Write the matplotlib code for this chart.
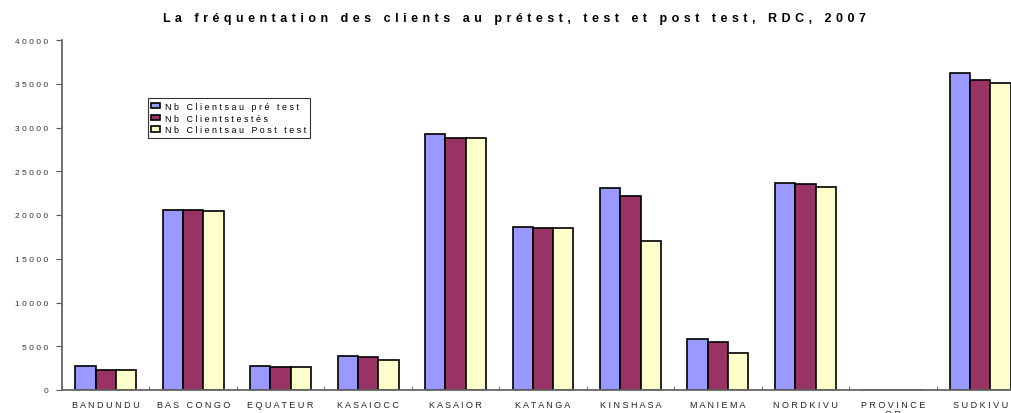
import matplotlib.pyplot as plt
import numpy as np

plt.rcParams['font.family'] = ['Liberation Sans', 'DejaVu Sans']

# provinces and attendance counts per stage
provinces = ['BANDUNDU', 'BAS CONGO', 'EQUATEUR', 'KASAIOCC', 'KASAIOR', 'KATANGA',
             'KINSHASA', 'MANIEMA', 'NORDKIVU', 'PROVINCE\nOR', 'SUDKIVU']
pretest = [2750, 20550, 2750, 3900, 29300, 18600, 23100, 5830, 23700, 0, 36200]
testes = [2300, 20550, 2600, 3750, 28750, 18500, 22200, 5450, 23550, 0, 35430]
posttest = [2300, 20450, 2600, 3400, 28750, 18500, 17000, 4230, 23230, 0, 35090]

series_names = ['Nb Clientsau pré test', 'Nb Clientstestés', 'Nb Clientsau Post test']
colors = ['#9999FF', '#993366', '#FFFFCC']
yticks = [0, 5000, 10000, 15000, 20000, 25000, 30000, 35000, 40000]


def spaced(s, gap=' '):
    # wide letter spacing, one line at a time
    return '\n'.join(gap.join(line) for line in s.split('\n'))


fig = plt.figure(figsize=(10.11, 4.14), dpi=100)
ax = fig.add_axes([62 / 1011, 1 - 391 / 414, 962 / 1011, 350 / 414])

x = np.arange(len(provinces))
w = 0.232
for i, (vals, col, name) in enumerate(zip([pretest, testes, posttest], colors, series_names)):
    ax.bar(x + (i - 1) * w, vals, w, color=col, edgecolor='black', linewidth=1.2,
           label=spaced(name))

ax.set_xlim(-0.5, len(provinces) - 0.5)
ax.set_ylim(0, 40000)
ax.set_yticks(yticks)
ax.set_yticklabels([spaced(str(v)) for v in yticks], fontsize=6, color='#333333')
ax.set_xticks(x)
ax.set_xticklabels([spaced(p) for p in provinces], fontsize=6.5, color='#222222',
                   linespacing=1.0)
ax.set_xticks(np.arange(len(provinces) + 1) - 0.5, minor=True)
ax.tick_params(axis='x', which='major', length=0, pad=7)
ax.tick_params(axis='x', which='minor', length=3, color='#555555', direction='in')
ax.tick_params(axis='y', length=4, color='#555555', pad=6)

for side in ['top', 'right']:
    ax.spines[side].set_visible(False)
ax.spines['left'].set_color('#666666')
ax.spines['bottom'].set_color('#666666')
ax.spines['left'].set_linewidth(1.3)
ax.spines['bottom'].set_linewidth(1.3)

leg = ax.legend(loc='upper left', bbox_to_anchor=(0.089, 0.834), borderaxespad=0,
                fontsize=6.4, frameon=True, fancybox=False, handlelength=1.0,
                handleheight=0.6, handletextpad=0.6, labelspacing=0.32,
                borderpad=0.4)
leg.get_frame().set_edgecolor('black')
leg.get_frame().set_linewidth(0.8)

fig.text(0.509, 0.953,
         spaced('La fréquentation des clients au prétest, test et post test, RDC, 2007',
                gap=' \u200a'),
         ha='center', va='center', fontsize=9, fontweight='bold')

fig.savefig('out.png', dpi=100)
